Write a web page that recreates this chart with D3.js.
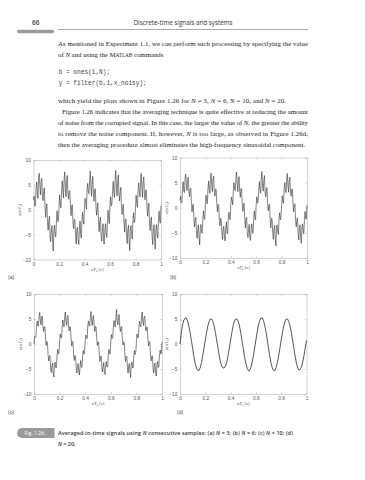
<!DOCTYPE html>
<html lang="en">
<head>
<meta charset="UTF-8">
<title>Fig. 1.26 averaged-in-time signals</title>
<script src="https://cdn.jsdelivr.net/npm/d3@7"></script>
<style>
  html, body { margin: 0; padding: 0; background: #fff; }
  svg { display: block; }
</style>
</head>
<body>
<div id="page"></div>
<script>

// tick values shared by the four panels
const xTicks = [0, 0.2, 0.4, 0.6, 0.8, 1];
const yTicks = [-10, -5, 0, 5, 10];

// sample spacing of the plotted sequences (s)
const dtFast = 0.005;
const dtSlow = 0.01;

// (a) N = 3
const yN3 = [
  2.0, 2.7, 0.7, 0.9, 4.0, 5.6, 3.4, 2.3, 6.3, 7.3, 4.8, 3.0, 5.7, 6.3, 2.8, 1.8, 3.7, 4.4, 0.8, -1.5,
  0.7, 1.2, -2.6, -4.1, -2.1, -1.3, -5.5, -6.4, -4.1, -3.2, -6.5, -8.3, -4.0, -3.1, -5.2, -5.5, -2.2, -0.2, -2.4, -2.3,
  0.3, 3.0, 1.3, 0.4, 3.5, 5.8, 3.9, 2.4, 6.2, 7.6, 4.3, 2.6, 5.9, 6.9, 3.3, 2.1, 3.8, 3.8, 0.5, -1.2,
  0.9, 1.0, -2.9, -3.8, -1.9, -2.2, -5.2, -6.9, -3.9, -3.5, -6.0, -7.0, -4.2, -2.3, -5.0, -5.7, -2.1, -0.5, -2.2, -2.9,
  0.8, 2.3, 1.6, 0.1, 4.0, 5.3, 3.5, 3.2, 5.8, 7.8, 4.9, 2.7, 5.5, 6.7, 3.2, 1.7, 4.1, 4.2, 0.6, -1.1,
  0.4, 1.4, -2.3, -4.4, -2.2, -1.5, -5.3, -6.3, -4.4, -2.8, -6.3, -6.9, -3.8, -2.8, -4.9, -5.6, -2.5, -0.1, -1.9, -2.8,
  1.0, 2.6, 0.8, 1.1, 3.7, 5.7, 3.8, 2.5, 6.0, 7.9, 4.6, 2.8, 5.6, 7.0, 3.0, 1.8, 3.6, 4.5, 0.7, -1.0,
  0.6, 1.1, -2.5, -4.5, -2.0, -1.8, -5.1, -6.8, -4.0, -3.1, -6.4, -8.2, -3.7, -3.2, -5.0, -5.9, -2.0, -0.6, -2.6, -2.1,
  0.2, 2.9, 1.4, 0.5, 3.8, 5.4, 3.7, 2.6, 5.8, 7.3, 4.4, 2.5, 5.7, 6.6, 3.1, 2.0, 3.9, 4.0, 0.5, -1.3,
  0.7, 1.3, -2.7, -4.2, -2.3, -1.5, -5.3, -7.0, -4.1, -3.0, -6.1, -7.9, -3.9, -3.0, -5.1, -5.7, -2.1, -0.3, -2.3, -2.7,
  0.8
];

// (b) N = 6
const yN6 = [
  1.5, 2.3, 0.9, 1.1, 3.7, 5.2, 3.3, 3.0, 5.9, 6.7, 4.6, 3.4, 5.6, 6.1, 3.2, 2.2, 3.6, 3.9, 0.8, -0.8,
  0.6, 0.7, -2.4, -3.8, -2.2, -1.9, -5.1, -6.1, -4.2, -3.4, -6.1, -7.4, -4.0, -3.3, -5.0, -5.1, -2.2, -0.6, -2.2, -2.3,
  0.5, 2.5, 1.2, 0.8, 3.6, 5.3, 3.7, 2.9, 5.8, 6.9, 4.4, 3.2, 5.7, 6.3, 3.4, 2.3, 3.7, 3.6, 0.7, -0.8,
  0.7, 0.6, -2.6, -3.6, -2.1, -2.4, -5.0, -6.3, -4.1, -3.7, -5.8, -6.6, -4.2, -2.8, -4.9, -5.2, -2.2, -0.9, -2.1, -2.4,
  0.7, 2.1, 1.4, 0.6, 3.8, 5.0, 3.6, 3.4, 5.6, 7.1, 4.8, 3.2, 5.4, 6.2, 3.3, 2.1, 3.8, 3.8, 0.8, -0.7,
  0.5, 0.9, -2.2, -4.0, -2.3, -1.9, -5.0, -5.9, -4.3, -3.3, -6.0, -6.5, -4.0, -3.2, -4.8, -5.1, -2.4, -0.6, -2.0, -2.4,
  0.8, 2.2, 0.9, 1.3, 3.6, 5.2, 3.7, 2.9, 5.7, 7.2, 4.5, 3.3, 5.5, 6.4, 3.2, 2.2, 3.5, 4.0, 0.8, -0.6,
  0.6, 0.7, -2.4, -4.0, -2.1, -2.2, -4.9, -6.3, -4.1, -3.5, -6.1, -7.6, -3.9, -3.4, -4.9, -5.3, -2.1, -1.0, -2.4, -1.9,
  0.3, 2.4, 1.3, 0.9, 3.7, 5.0, 3.6, 3.0, 5.6, 6.8, 4.4, 3.1, 5.6, 6.1, 3.3, 2.3, 3.7, 3.7, 0.7, -0.8,
  0.6, 0.8, -2.5, -3.8, -2.4, -2.0, -5.1, -6.4, -4.2, -3.4, -5.9, -7.1, -4.0, -3.2, -4.9, -5.2, -2.2, -0.7, -2.2, -2.3,
  0.6
];

// (c) N = 10
const yN10 = [
  0.0, 1.5, 1.3, 1.5, 3.5, 4.6, 3.6, 3.6, 5.5, 6.3, 4.6, 3.8, 5.4, 5.6, 3.5, 2.5, 3.4, 3.5, 1.0, -0.3,
  0.5, 0.2, -2.2, -3.4, -2.4, -2.3, -4.8, -5.7, -4.4, -3.8, -5.8, -6.6, -4.2, -3.6, -4.7, -4.7, -2.4, -1.1, -2.0, -1.9,
  0.4, 2.0, 1.3, 1.2, 3.4, 4.8, 3.7, 3.4, 5.5, 6.4, 4.5, 3.7, 5.4, 5.7, 3.6, 2.6, 3.5, 3.3, 1.0, -0.4,
  0.5, 0.3, -2.3, -3.3, -2.3, -2.6, -4.7, -5.8, -4.3, -3.9, -5.6, -6.2, -4.4, -3.3, -4.6, -4.7, -2.4, -1.3, -2.0, -1.9,
  0.5, 1.8, 1.4, 1.1, 3.5, 4.6, 3.7, 3.6, 5.4, 6.5, 4.7, 3.7, 5.2, 5.7, 3.6, 2.5, 3.5, 3.4, 1.1, -0.3,
  0.4, 0.4, -2.0, -3.5, -2.5, -2.4, -4.7, -5.6, -4.5, -3.7, -5.7, -6.1, -4.2, -3.5, -4.6, -4.6, -2.5, -1.1, -1.9, -2.0,
  0.6, 1.9, 1.1, 1.5, 3.4, 4.7, 3.8, 3.4, 5.5, 6.9, 4.6, 3.8, 5.3, 5.9, 3.5, 2.5, 3.3, 3.5, 1.0, -0.2,
  0.4, 0.3, -2.2, -3.5, -2.4, -2.5, -4.7, -5.8, -4.3, -3.9, -5.7, -6.7, -4.2, -3.6, -4.7, -4.8, -2.4, -1.3, -2.1, -1.7,
  0.3, 2.0, 1.3, 1.3, 3.5, 4.6, 3.7, 3.4, 5.4, 6.4, 4.5, 3.7, 5.4, 5.6, 3.6, 2.6, 3.4, 3.3, 1.0, -0.4,
  0.5, 0.3, -2.2, -3.4, -2.5, -2.4, -4.7, -5.8, -4.4, -3.8, -5.6, -6.4, -4.3, -3.5, -4.7, -4.6, -2.4, -1.2, -2.0, -1.9,
  0.4
];

// (d) N = 20
const yN20 = [
  0.0, 2.2, 3.8, 4.7, 5.2, 5.2, 4.6, 3.6, 2.3, 0.7, -0.9, -2.5, -3.9, -4.8, -5.3, -5.3, -4.7, -3.7, -2.3, -0.8,
  0.8, 2.3, 3.6, 4.5, 5.0, 5.0, 4.5, 3.6, 2.3, 0.8, -0.8, -2.3, -3.6, -4.4, -4.8, -4.8, -4.4, -3.6, -2.3, -0.8,
  0.8, 2.3, 3.7, 4.6, 5.0, 5.0, 4.5, 3.6, 2.3, 0.7, -0.9, -2.5, -3.8, -4.8, -5.3, -5.3, -4.7, -3.7, -2.4, -0.8,
  0.8, 2.4, 3.8, 4.7, 5.2, 5.2, 4.7, 3.7, 2.4, 0.8, -0.9, -2.5, -3.9, -4.8, -5.3, -5.3, -4.7, -3.7, -2.3, -0.8,
  0.8, 2.3, 3.6, 4.5, 5.0, 5.0, 4.5, 3.6, 2.3, 0.8, -0.8, -2.4, -3.8, -4.7, -5.2, -5.1, -4.6, -3.6, -2.3, -0.8,
  0.7
];

const W = 365, H = 480;
const serif = "'Liberation Serif', 'DejaVu Serif', serif";
const sans = "'Open Sans', 'Noto Sans', 'Liberation Sans', sans-serif";

const svg = d3.select("#page").append("svg")
    .attr("width", W)
    .attr("height", H)
    .attr("viewBox", [0, 0, W, H]);

svg.append("rect").attr("width", W).attr("height", H).attr("fill", "#fff");

// ---- running head ----
svg.append("text")
    .attr("x", 32).attr("y", 24.5)
    .attr("font-family", sans).attr("font-size", 6.4).attr("font-weight", 600)
    .attr("fill", "#333")
    .text("66");
svg.append("text")
    .attr("x", 183).attr("y", 24.5)
    .attr("text-anchor", "middle")
    .attr("font-family", sans).attr("font-size", 6.3)
    .attr("fill", "#333")
    .attr("textLength", 99).attr("lengthAdjust", "spacingAndGlyphs")
    .text("Discrete-time signals and systems");
svg.append("line")
    .attr("x1", 58).attr("x2", 308).attr("y1", 29.5).attr("y2", 29.5)
    .attr("stroke", "#555").attr("stroke-width", 0.5);
svg.append("rect")
    .attr("x", 17).attr("y", 29.8).attr("width", 37).attr("height", 3.4).attr("rx", 1.7)
    .attr("fill", "#9a9a9a");

// ---- body text ----
// "*...*" italic, "^...^" small caps
function richText(sel, str, size) {
  const parts = str.split(/([*^][^*^]*[*^])/);
  parts.forEach(p => {
    if (!p) return;
    if (p[0] === "*") {
      sel.append("tspan").attr("font-style", "italic").text(p.slice(1, -1));
    } else if (p[0] === "^") {
      sel.append("tspan").attr("font-size", size * 0.76).text(p.slice(1, -1));
    } else {
      sel.append("tspan").text(p);
    }
  });
}

const bodySize = 6.8;
const bodyLines = [
  {x: 58, y: 46.2, len: 250, s: "As mentioned in Experiment 1.1, we can perform such processing by specifying the value"},
  {x: 58, y: 57.2, len: 0, s: "of *N* and using the M^ATLAB^ commands"},
  {x: 58, y: 102.6, len: 228, s: "which yield the plots shown in Figure 1.26 for *N* = 3, *N* = 6, *N* = 10, and *N* = 20."},
  {x: 62, y: 113.6, len: 246, s: "Figure 1.26 indicates that the averaging technique is quite effective at reducing the amount"},
  {x: 58, y: 124.6, len: 250, s: "of noise from the corrupted signal. In this case, the larger the value of *N*, the greater the ability"},
  {x: 58, y: 135.6, len: 250, s: "to remove the noise component. If, however, *N* is too large, as observed in Figure 1.26d,"},
  {x: 58, y: 146.6, len: 247, s: "then the averaging procedure almost eliminates the high-frequency sinusoidal component."}
];
bodyLines.forEach(l => {
  const t = svg.append("text")
      .attr("x", l.x).attr("y", l.y)
      .attr("font-family", serif).attr("font-size", bodySize)
      .attr("fill", "#222");
  richText(t, l.s, bodySize);
  if (l.len) t.attr("textLength", l.len).attr("lengthAdjust", "spacing");
});

const codeLines = ["b = ones(1,N);", "y = filter(b,1,x_noisy);"];
codeLines.forEach((c, i) => {
  svg.append("text")
      .attr("x", 58.7).attr("y", 74.3 + i * 10.2)
      .attr("font-family", "'Liberation Mono', 'DejaVu Sans Mono', monospace")
      .attr("font-size", 6.3)
      .attr("fill", "#444")
      .attr("textLength", c.length * 3.67).attr("lengthAdjust", "spacingAndGlyphs")
      .text(c);
});

// ---- the four panels ----
const panels = [
  {label: "(a)", data: yN3,  dt: dtFast, x0: 33.5, x1: 161,   y0: 160,   y1: 259.5, lx: 8,   ly: 279,   w: 0.55},
  {label: "(b)", data: yN6,  dt: dtFast, x0: 180,  x1: 307,   y0: 157.5, y1: 258,   lx: 170, ly: 279,   w: 0.55},
  {label: "(c)", data: yN10, dt: dtFast, x0: 34,   x1: 162,   y0: 294,   y1: 394,   lx: 8,   ly: 413.5, w: 0.55},
  {label: "(d)", data: yN20, dt: dtSlow, x0: 180,  x1: 306.5, y0: 294,   y1: 394,   lx: 177, ly: 413.5, w: 0.75}
];

const axisColor = "#a8a8a8";
const labelColor = "#555";
const tickFont = "'Liberation Sans', 'DejaVu Sans', sans-serif";

function styleAxis(g) {
  g.attr("font-size", 4.8).attr("font-family", tickFont);
  g.selectAll(".domain").attr("stroke", axisColor).attr("stroke-width", 0.5);
  g.selectAll(".tick line").attr("stroke", axisColor).attr("stroke-width", 0.5);
  g.selectAll(".tick text").attr("fill", labelColor);
}

const fmtX = d => String(d);
const fmtY = d => d < 0 ? "\u2212" + Math.abs(d) : String(d);

panels.forEach(p => {
  const x = d3.scaleLinear().domain([0, 1]).range([p.x0, p.x1]);
  const y = d3.scaleLinear().domain([-10, 10]).range([p.y1, p.y0]);
  const g = svg.append("g");

  g.append("g")
      .attr("transform", `translate(0,${p.y1})`)
      .call(d3.axisBottom(x).tickValues(xTicks).tickFormat(fmtX)
        .tickSizeInner(-1.8).tickSizeOuter(0).tickPadding(2.6))
      .call(styleAxis);
  g.append("g")
      .attr("transform", `translate(0,${p.y0})`)
      .call(d3.axisTop(x).tickValues(xTicks).tickFormat("")
        .tickSizeInner(-1.8).tickSizeOuter(0))
      .call(styleAxis);
  g.append("g")
      .attr("transform", `translate(${p.x0},0)`)
      .call(d3.axisLeft(y).tickValues(yTicks).tickFormat(fmtY)
        .tickSizeInner(-1.8).tickSizeOuter(0).tickPadding(2.6))
      .call(styleAxis);
  g.append("g")
      .attr("transform", `translate(${p.x1},0)`)
      .call(d3.axisRight(y).tickValues(yTicks).tickFormat("")
        .tickSizeInner(-1.8).tickSizeOuter(0))
      .call(styleAxis);

  const line = d3.line()
      .x((d, i) => x(i * p.dt))
      .y(d => y(d));
  g.append("path")
      .datum(p.data)
      .attr("d", line)
      .attr("fill", "none")
      .attr("stroke", "#1e1e1e")
      .attr("stroke-width", p.w)
      .attr("stroke-linejoin", "round");

  // axis titles
  const yl = g.append("text")
      .attr("transform", `translate(${p.x0 - 12.5},${(p.y0 + p.y1) / 2}) rotate(-90)`)
      .attr("text-anchor", "middle")
      .attr("font-family", serif).attr("font-size", 4.8)
      .attr("fill", labelColor);
  yl.append("tspan").attr("font-style", "italic").text("y");
  yl.append("tspan").text("(");
  yl.append("tspan").attr("font-style", "italic").text("nT");
  yl.append("tspan").attr("font-size", 3.4).attr("dy", 1).text("s");
  yl.append("tspan").attr("dy", -1).text(")");

  const xl = g.append("text")
      .attr("x", (p.x0 + p.x1) / 2).attr("y", p.y1 + 11.2)
      .attr("text-anchor", "middle")
      .attr("font-family", serif).attr("font-size", 4.8)
      .attr("fill", labelColor);
  xl.append("tspan").attr("font-style", "italic").text("nT");
  xl.append("tspan").attr("font-size", 3.4).attr("dy", 1).text("s");
  xl.append("tspan").attr("dy", -1).text(" [s]");

  g.append("text")
      .attr("x", p.lx).attr("y", p.ly)
      .attr("font-family", tickFont).attr("font-size", 5)
      .attr("fill", "#444")
      .text(p.label);
});

// ---- caption ----
svg.append("path")
    .attr("d", "M22,428 H54.5 V438 H22 A5,5 0 0 1 22,428 Z")
    .attr("fill", "#9a9a9a");
svg.append("text")
    .attr("x", 24.5).attr("y", 434.9)
    .attr("font-family", sans).attr("font-size", 5.2)
    .attr("fill", "#fff")
    .text("Fig. 1.26.");

const capSize = 5.4;
const captionLines = [
  {y: 435.0, len: 235, s: "Averaged-in-time signals using *N* consecutive samples: (a) *N* = 3; (b) *N* = 6; (c) *N* = 10; (d)"},
  {y: 445.8, len: 0, s: "*N* = 20."}
];
captionLines.forEach(l => {
  const t = svg.append("text")
      .attr("x", 58).attr("y", l.y)
      .attr("font-family", sans).attr("font-size", capSize).attr("font-weight", 600)
      .attr("fill", "#333");
  richText(t, l.s, capSize);
  if (l.len) t.attr("textLength", l.len).attr("lengthAdjust", "spacing");
});

</script>
</body>
</html>
